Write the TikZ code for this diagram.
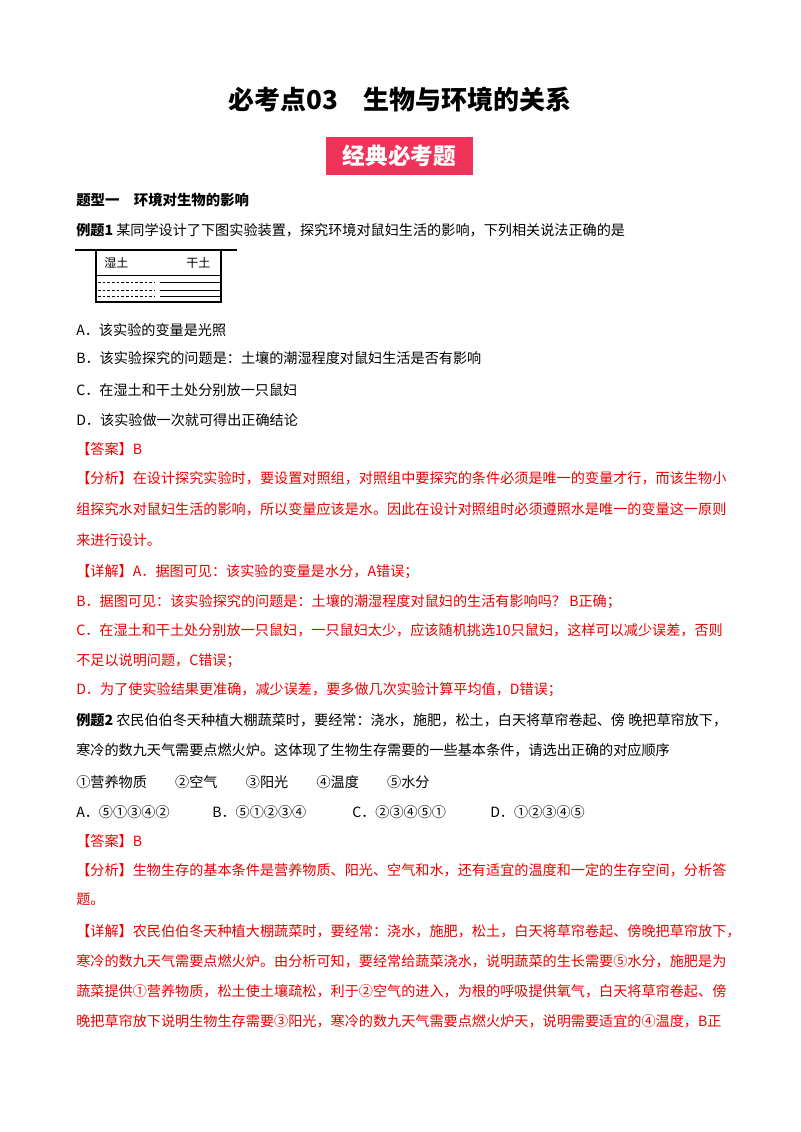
\documentclass[tikz,border=0pt]{standalone}
\usepackage{fontspec}
\setmainfont{Liberation Serif}
\newfontfamily\cjk{Noto Sans CJK SC}
\definecolor{ansred}{rgb}{0.92,0.0,0.0}
\definecolor{badge}{rgb}{0.94,0.2,0.35}
\tikzset{
  ln/.style={anchor=west, inner sep=0pt, font=\cjk\fontsize{10.6pt}{12pt}\selectfont},
  rd/.style={ln, text=ansred},
  hd/.style={ln, font=\cjk\bfseries\fontsize{10.8pt}{12pt}\selectfont},
}
\begin{document}
\begin{tikzpicture}[x=0.75pt, y=-0.75pt]
\useasboundingbox (0,0) rectangle (800,1132);
% title and badge
\node[inner sep=0pt, font=\cjk\bfseries\fontsize{19.5pt}{22pt}\selectfont] (title) at (400,100) {必考点03\quad 生物与环境的关系};
\node[fill=badge, text=white, font=\cjk\bfseries\fontsize{17pt}{20pt}\selectfont, minimum width=110pt, minimum height=28pt, inner sep=0pt] (badge) at (399.5,156) {经典必考题};
\node[hd] (sec) at (76,200) {题型一\quad 环境对生物的影响};
% example 1
\node[ln] (q1) at (76,230) {\textbf{例题1} 某同学设计了下图实验装置，探究环境对鼠妇生活的影响，下列相关说法正确的是};
\draw[thick] (75,250) -- (237,250);
\draw[thick] (96,250) rectangle (221,302);
\draw (96,275) -- (221,275);
\foreach \y in {282,290,296} {
  \draw[dashed, dash pattern=on 2pt off 1.5pt] (98,\y) -- (155,\y);
  \draw (160,\y) -- (220,\y);
}
\node[ln, font=\cjk\fontsize{9pt}{10pt}\selectfont] (wet) at (104,263) {湿土};
\node[ln, font=\cjk\fontsize{9pt}{10pt}\selectfont] (dry) at (186,263) {干土};
\node[ln] (a1) at (76,330) {A．该实验的变量是光照};
\node[ln] (b1) at (76,358) {B．该实验探究的问题是：土壤的潮湿程度对鼠妇生活是否有影响};
\node[ln] (c1) at (76,390) {C．在湿土和干土处分别放一只鼠妇};
\node[ln] (d1) at (76,420) {D．该实验做一次就可得出正确结论};
\node[rd] (ans1) at (76,449) {【答案】B};
\node[rd] (an1) at (76,478) {【分析】在设计探究实验时，要设置对照组，对照组中要探究的条件必须是唯一的变量才行，而该生物小};
\node[rd] (an2) at (76,509) {组探究水对鼠妇生活的影响，所以变量应该是水。因此在设计对照组时必须遵照水是唯一的变量这一原则};
\node[rd] (an3) at (76,540) {来进行设计。};
\node[rd] (de1) at (76,572) {【详解】A．据图可见：该实验的变量是水分，A错误；};
\node[rd] (de2) at (76,602) {B．据图可见：该实验探究的问题是：土壤的潮湿程度对鼠妇的生活有影响吗？ B正确；};
\node[rd] (de3) at (76,630) {C．在湿土和干土处分别放一只鼠妇，一只鼠妇太少，应该随机挑选10只鼠妇，这样可以减少误差，否则};
\node[rd] (de4) at (76,661) {不足以说明问题，C错误；};
\node[rd] (de5) at (76,690) {D．为了使实验结果更准确，减少误差，要多做几次实验计算平均值，D错误；};
% example 2
\node[ln] (q2) at (76,720) {\textbf{例题2} 农民伯伯冬天种植大棚蔬菜时，要经常：浇水，施肥，松土，白天将草帘卷起、傍 晚把草帘放下，};
\node[ln] (q2b) at (76,750) {寒冷的数九天气需要点燃火炉。这体现了生物生存需要的一些基本条件，请选出正确的对应顺序};
\node[ln] (it) at (76,782) {①营养物质\qquad ②空气\qquad ③阳光\qquad ④温度\qquad ⑤水分};
\node[ln] (a2) at (76,812) {A．⑤①③④②};
\node[ln] (b2) at (212,812) {B．⑤①②③④};
\node[ln] (c2) at (352,812) {C．②③④⑤①};
\node[ln] (d2) at (490,812) {D．①②③④⑤};
\node[rd] (ans2) at (76,841) {【答案】B};
\node[rd] (bn1) at (76,870) {【分析】生物生存的基本条件是营养物质、阳光、空气和水，还有适宜的温度和一定的生存空间，分析答};
\node[rd] (bn2) at (76,899) {题。};
\node[rd] (ee1) at (76,931) {【详解】农民伯伯冬天种植大棚蔬菜时，要经常：浇水，施肥，松土，白天将草帘卷起、傍晚把草帘放下，};
\node[rd] (ee2) at (76,961) {寒冷的数九天气需要点燃火炉。由分析可知，要经常给蔬菜浇水，说明蔬菜的生长需要⑤水分，施肥是为};
\node[rd] (ee3) at (76,991) {蔬菜提供①营养物质，松土使土壤疏松，利于②空气的进入，为根的呼吸提供氧气，白天将草帘卷起、傍};
\node[rd] (ee4) at (76,1021) {晚把草帘放下说明生物生存需要③阳光，寒冷的数九天气需要点燃火炉天，说明需要适宜的④温度，B正};
\end{tikzpicture}
\end{document}
